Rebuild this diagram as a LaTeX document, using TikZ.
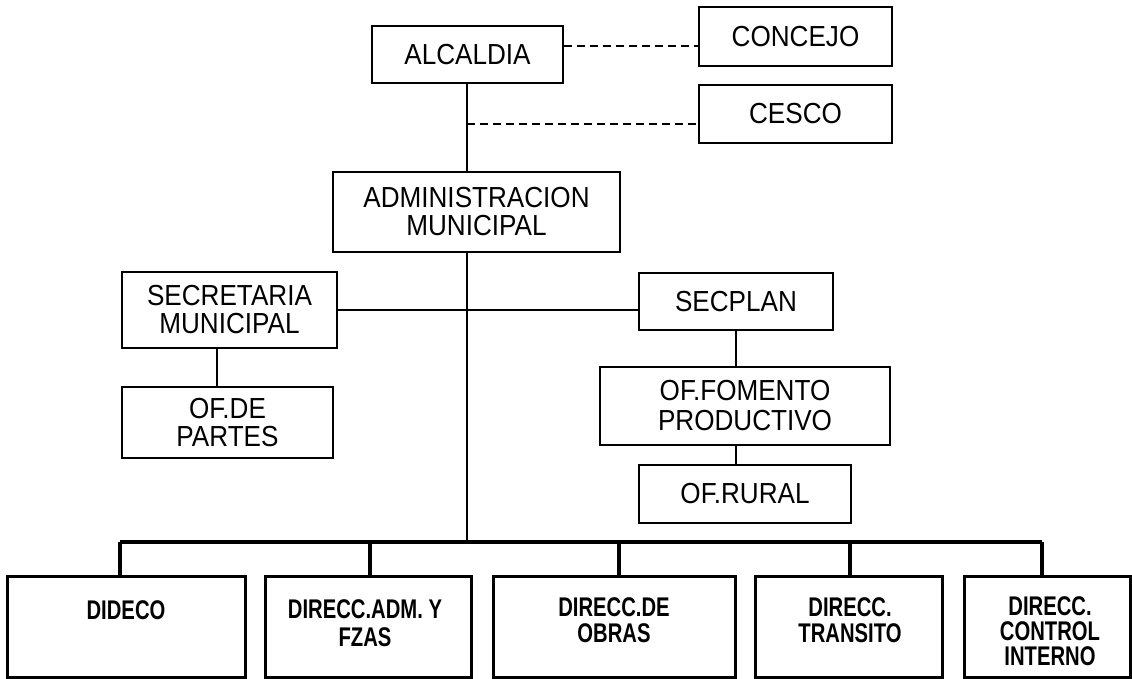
\documentclass[tikz,border=0pt]{standalone}
\usepackage{fontspec}
\setmainfont{Liberation Sans}
\newfontfamily\topf[FakeStretch=0.9]{Liberation Sans}
\newfontfamily\botf[FakeStretch=0.75]{Liberation Sans}
\usetikzlibrary{calc}
\begin{document}
\begin{tikzpicture}[x=1pt,y=-1pt,
  box/.style={draw=black, line width=1.8pt, inner sep=0pt, align=center,
              font=\topf\fontsize{29}{28}\selectfont},
  bbox/.style={draw=black, line width=3pt, inner sep=0pt, minimum height=101pt},
  btext/.style={inner sep=0pt, align=center, font=\botf\bfseries\fontsize{27}{26}\selectfont},
  conn/.style={line width=1.8pt},
  dashconn/.style={line width=1.8pt, dash pattern=on 8pt off 5pt},
  busline/.style={line width=3.2pt}]
\useasboundingbox (0,0) rectangle (1132,678);
\fill[white] (0,0) rectangle (1132,678);

% top
\node[box, minimum width=191pt, minimum height=57pt] (alc) at (467.5,54.5) {ALCALDIA};
\node[box, minimum width=193pt, minimum height=59pt] (con) at (795.5,36.5) {CONCEJO};
\node[box, minimum width=193pt, minimum height=58pt] (ces) at (795.5,114) {CESCO};
\node[box, minimum width=287pt, minimum height=80pt] (adm) at (476.5,212) {ADMINISTRACION\\MUNICIPAL};
\node[box, minimum width=215pt, minimum height=76pt] (sec) at (229.5,310) {SECRETARIA\\MUNICIPAL};
\node[box, minimum width=211pt, minimum height=71pt] (par) at (227.5,422.5) {OF.DE\\PARTES};
\node[box, minimum width=194pt, minimum height=57pt] (spl) at (736,301.5) {SECPLAN};
\node[box, minimum width=290pt, minimum height=78pt, font=\topf\fontsize{29}{30}\selectfont] (fom) at (745,406) {OF.FOMENTO\\PRODUCTIVO};
\node[box, minimum width=212pt, minimum height=58pt] (rur) at (745,494) {OF.RURAL};

% bottom row
\node[bbox, minimum width=238pt] (b1) at (126,626.5) {};
\node[bbox, minimum width=206pt] (b2) at (368,626.5) {};
\node[bbox, minimum width=242pt] (b3) at (614,626.5) {};
\node[bbox, minimum width=187pt] (b4) at (848.5,626.5) {};
\node[bbox, minimum width=166pt] (b5) at (1047,626.5) {};
\node[btext] (t1) at (126,610) {DIDECO};
\node[btext, font=\botf\bfseries\fontsize{27}{28}\selectfont] (t2) at (365,623) {DIRECC.ADM. Y\\FZAS};
\node[btext] (t3) at (614,620) {DIRECC.DE\\OBRAS};
\node[btext] (t4) at (850,620) {DIRECC.\\TRANSITO};
\node[btext, font=\botf\bfseries\fontsize{27}{25}\selectfont] (t5) at (1050,631) {DIRECC.\\CONTROL\\INTERNO};

% connectors
\coordinate (y1) at (0,46);
\coordinate (j1) at (467,124);
\coordinate (bus) at (467,542);
\coordinate (sx) at (217,0);
\draw[dashconn] (alc.east |- y1) -- (con.west |- y1);
\draw[dashconn] (j1) -- (j1 -| ces.west);
\draw[conn] (alc.south -| bus) -- (adm.north -| bus);
\draw[conn] (adm.south -| bus) -- (bus);
\draw[conn] (sec.east) -- (sec.east -| spl.west);
\draw[conn] (sec.south -| sx) -- (par.north -| sx);
\draw[conn] (spl.south) -- (spl.south |- fom.north);
\draw[conn] (fom.south -| spl.south) -- (rur.north -| spl.south);

\coordinate (d1) at (120,542);
\coordinate (d2) at (370,542);
\coordinate (d3) at (619,542);
\coordinate (d4) at (850,542);
\coordinate (d5) at (1042,542);
\draw[busline] (d1) -- (d5);
\draw[busline] (d1) -- (d1 |- b1.north);
\draw[busline] (d2) -- (d2 |- b2.north);
\draw[busline] (d3) -- (d3 |- b3.north);
\draw[busline] (d4) -- (d4 |- b4.north);
\draw[busline] (d5) -- (d5 |- b5.north);
\end{tikzpicture}
\end{document}
